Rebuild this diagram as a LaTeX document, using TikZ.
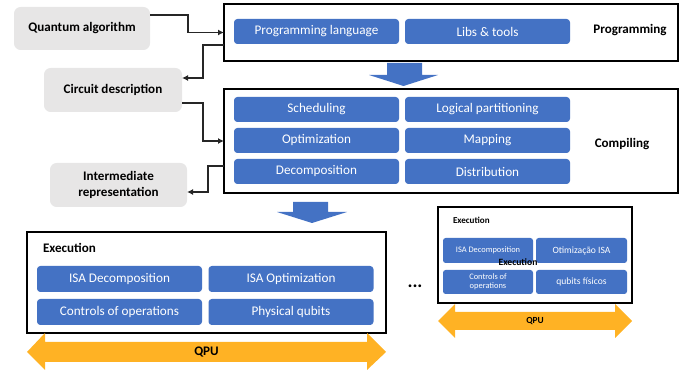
\documentclass[tikz,border=0pt]{standalone}
\usepackage{fontspec}
\setmainfont{Carlito}
\usepackage{tikz}
\usetikzlibrary{arrows.meta,positioning}
\definecolor{boxblue}{HTML}{4472C4}
\definecolor{boxgray}{HTML}{E7E6E6}
\definecolor{qpuorange}{HTML}{FFB224}

\begin{document}
\begin{tikzpicture}[x=0.75pt,y=-0.75pt,
  every node/.style={inner sep=0pt,outer sep=0pt},
  link/.style={-{Latex[length=4.5pt,width=4.5pt]},line width=1.1pt,black!85}]
  \tikzstyle{stage} = [draw=black,line width=1.1pt,fill=white,rectangle]
  \tikzstyle{stepbox} = [fill=boxblue,rounded corners=2.5pt,text=white,
    minimum width=165*0.75pt,minimum height=25*0.75pt,font=\fontsize{9.9}{11}\selectfont]
  \tikzstyle{smallstep} = [fill=boxblue,rounded corners=2pt,text=white,align=center,
    minimum height=24*0.75pt,font=\fontsize{6.3}{7}\selectfont]
  \tikzstyle{input} = [fill=boxgray,rounded corners=5pt,align=center,
    font=\bfseries\fontsize{9.8}{11.5}\selectfont]
  \tikzstyle{title} = [font=\bfseries\fontsize{9.8}{11}\selectfont]
  \tikzstyle{flow} = [fill=boxblue]
  \tikzstyle{qpu} = [fill=qpuorange]
  \useasboundingbox (0,0) rectangle (683,370);

  % inputs and intermediate forms
  \node (qa) [input,minimum width=136*0.75pt,minimum height=43*0.75pt] at (82,28.5) {Quantum algorithm};
  \node (cd) [input,minimum width=138*0.75pt,minimum height=44*0.75pt] at (113,90) {Circuit description};
  \node (ir) [input,minimum width=137*0.75pt,minimum height=44*0.75pt] at (118.5,185) {Intermediate\\representation};

  % programming
  \node (prog) [stage,minimum width=454*0.75pt,minimum height=57*0.75pt] at (451,32.5) {};
  \node (prog_1) [stepbox] at (316.5,31.5) {Programming language};
  \node (prog_2) [stepbox] at (487.5,31.5) {Libs \& tools};
  \node (prog_t) [title] at (630,30) {Programming};

  \fill[flow] (387,63) -- (422,63) -- (422,75) -- (438,75) -- (403.5,86) -- (369,75) -- (387,75) -- cycle;

  % compiling
  \node (comp) [stage,minimum width=454*0.75pt,minimum height=104*0.75pt] at (451,141) {};
  \node (comp_1) [stepbox] at (316.5,109.5) {Scheduling};
  \node (comp_2) [stepbox] at (487.5,109.5) {Logical partitioning};
  \node (comp_3) [stepbox] at (316.5,140.5) {Optimization};
  \node (comp_4) [stepbox] at (487.5,140.5) {Mapping};
  \node (comp_5) [stepbox] at (316.5,171.5) {Decomposition};
  \node (comp_6) [stepbox] at (487.5,171.5) {Distribution};
  \node (comp_t) [title] at (622,144) {Compiling};

  \fill[flow] (293,202) -- (328,202) -- (328,212) -- (347,212) -- (312,223) -- (277,212) -- (293,212) -- cycle;

  % execution
  \node (exec) [stage,minimum width=359*0.75pt,minimum height=101*0.75pt] at (206.5,282.5) {};
  \node (exec_t) [title,anchor=west] at (43,248) {Execution};
  \node (exec_1) [stepbox,minimum height=26*0.75pt] at (119.5,279) {ISA Decomposition};
  \node (exec_2) [stepbox,minimum height=26*0.75pt] at (291,279) {ISA Optimization};
  \node (exec_3) [stepbox,minimum height=26*0.75pt] at (119.5,312) {Controls of operations};
  \node (exec_4) [stepbox,minimum height=26*0.75pt] at (291,312) {Physical qubits};

  \fill[qpu] (27,352) -- (45,333) -- (45,342) -- (367,342) -- (367,333) -- (386,352)
    -- (367,370) -- (367,362) -- (45,362) -- (45,370) -- cycle;
  \node (qpu_1) [title] at (206.5,352) {QPU};

  \node (dots) [font=\bfseries\fontsize{14}{14}\selectfont] at (415,286) {...};

  % second execution
  \node (exec2) [stage,minimum width=194*0.75pt,minimum height=96*0.75pt] at (535,255) {};
  \node (exec2_t) [title,anchor=west,font=\bfseries\fontsize{6.8}{8}\selectfont] at (453,220) {Execution};
  \node (exec2_1) [smallstep,minimum width=90*0.75pt,minimum height=25*0.75pt] at (488,250.5) {ISA Decomposition};
  \node (exec2_2) [smallstep,minimum width=91*0.75pt,minimum height=25*0.75pt,font=\fontsize{7.2}{8}\selectfont] at (581.5,250.5) {Otimização ISA};
  \node (exec2_3) [smallstep,minimum width=90*0.75pt] at (488,282) {Controls of\\operations};
  \node (exec2_4) [smallstep,minimum width=91*0.75pt,font=\fontsize{7.2}{8}\selectfont] at (581.5,282) {qubits físicos};
  \node (exec2_x) [title,font=\bfseries\fontsize{7.2}{8}\selectfont] at (518,262) {Execution};

  \fill[qpu] (438,321) -- (455,304) -- (455,312) -- (615,312) -- (615,304) -- (632,321)
    -- (615,338) -- (615,330) -- (455,330) -- (455,338) -- cycle;
  \node (qpu_2) [title,font=\bfseries\fontsize{7}{8}\selectfont] at (535,321) {QPU};

  % connectors
  \draw[link] ([yshift=10pt]qa.east) -- ++(38,0) |- (prog.west);
  \draw[link] ([yshift=-9.4pt]prog.west) -- ++(-21,0) |- ([yshift=9pt]cd.east);
  \draw[link] ([yshift=-9.75pt]cd.east) -- ++(21,0) |- (comp.west);
  \draw[link] ([yshift=-18.75pt]comp.west) -- ++(-16,0) |- ([yshift=-5.25pt]ir.east);
\end{tikzpicture}
\end{document}
